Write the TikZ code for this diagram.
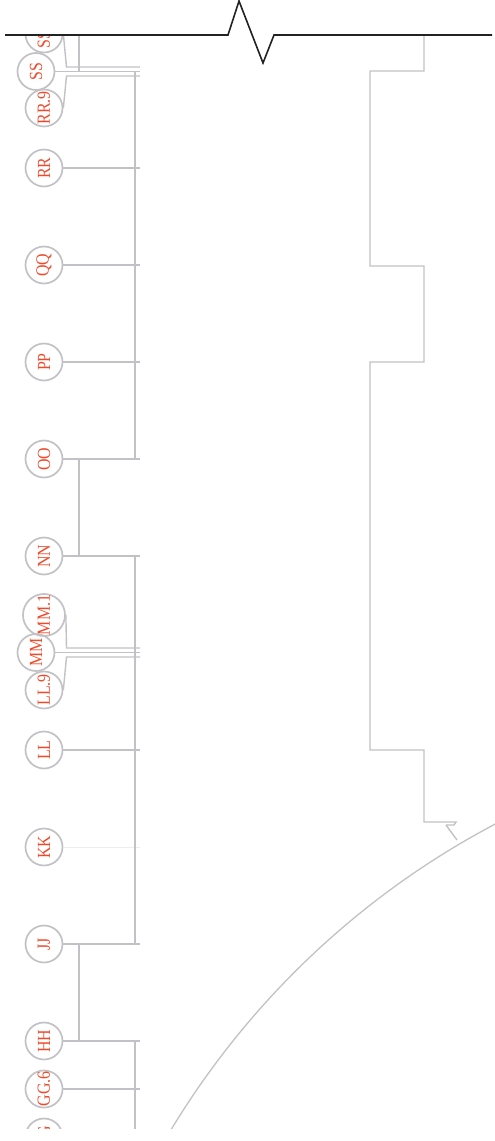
\documentclass[tikz,border=0pt]{standalone}
\usepackage{fontspec}
\setmainfont{Liberation Serif}
\usepackage{graphicx}
\definecolor{lg}{HTML}{C2C2C6}
\definecolor{lbl}{HTML}{EE4A2C}
\definecolor{brk}{HTML}{222222}
\newcommand\bublab[1]{\rotatebox{90}{\scalebox{0.86}[1]{#1}}}
\begin{document}
\begin{tikzpicture}[x=1pt,y=-1pt,
  bub/.style={circle,draw=lg,line width=1.7pt,minimum size=37pt,inner sep=0pt,
              text=lbl,font=\fontsize{18.5}{19}\selectfont},
  gl/.style={draw=lg,line width=1.4pt,line join=miter},
  faint/.style={draw=lg!30,line width=0.6pt},
  brkline/.style={draw=brk,line width=1.6pt,line join=miter}]
\useasboundingbox (0,0) rectangle (495,1141);
\coordinate (gx) at (140,0);
\begin{scope}
\clip (0,35) rectangle (495,1128);
% bubbles
\node[bub] (SSa) at (44,34) {\bublab{SS.1}};
\node[bub] (SS) at (36,71.5) {\bublab{SS}};
\node[bub] (RRa) at (44,108) {\bublab{RR.9}};
\node[bub] (RR) at (44,168) {\bublab{RR}};
\node[bub] (QQ) at (44,265) {\bublab{QQ}};
\node[bub] (PP) at (44,362) {\bublab{PP}};
\node[bub] (OO) at (44,459) {\bublab{OO}};
\node[bub] (NN) at (44,556) {\bublab{NN}};
\node[bub] (MMa) at (44,615) {\bublab{MM.1}};
\node[bub] (MM) at (36,652.5) {\bublab{MM}};
\node[bub] (LLa) at (44,690) {\bublab{LL.9}};
\node[bub] (LL) at (44,750) {\bublab{LL}};
\node[bub] (KK) at (44,847) {\bublab{KK}};
\node[bub] (JJ) at (44,944) {\bublab{JJ}};
\node[bub] (HH) at (44,1041) {\bublab{HH}};
\node[bub] (GGa) at (44,1089) {\bublab{GG.6}};
\node[bub] (GG) at (44,1137) {\bublab{GG}};
% leader bends
\coordinate (b1) at (66.5,67);
\coordinate (b2) at (66.5,76);
\coordinate (b3) at (66.5,648);
\coordinate (b4) at (66.5,657);
% grid lines
\draw[gl] (SSa.east) -- (b1) -- (b1 -| gx);
\draw[gl] (SS.east) -- (SS.east -| gx);
\draw[gl] (RRa.east) -- (b2) -- (b2 -| gx);
\draw[gl] (RR.east) -- (RR.east -| gx);
\draw[gl] (QQ.east) -- (QQ.east -| gx);
\draw[gl] (PP.east) -- (PP.east -| gx);
\draw[gl] (OO.east) -- (OO.east -| gx);
\draw[gl] (NN.east) -- (NN.east -| gx);
\draw[gl] (MMa.east) -- (b3) -- (b3 -| gx);
\draw[gl] (MM.east) -- (MM.east -| gx);
\draw[gl] (LLa.east) -- (b4) -- (b4 -| gx);
\draw[gl] (LL.east) -- (LL.east -| gx);
\draw[faint] (KK.east) -- (KK.east -| gx);
\draw[gl] (JJ.east) -- (JJ.east -| gx);
\draw[gl] (HH.east) -- (HH.east -| gx);
\draw[gl] (GGa.east) -- (GGa.east -| gx);
% left stepped outline
\draw[gl] (79,30) -- (79,71.5) -- (135,71.5) -- (135,459) -- (79,459) -- (79,556)
  -- (135,556) -- (135,944) -- (79,944) -- (79,1041) -- (135,1041) -- (135,1135);
% right stepped outline
\draw[gl] (424,30) -- (424,71) -- (370,71) -- (370,266) -- (424,266) -- (424,362)
  -- (370,362) -- (370,750) -- (424,750) -- (424,822) -- (456,822) -- (454,825) -- (446,825);
\coordinate (st) at (446,825);
\coordinate (se) at (457,840);
\draw[gl] (st) -- (se);
% arc
\draw[draw=lg,line width=1.3pt] (881,1558) circle[radius=829];
\end{scope}
% break line
\draw[brkline] (5,35) -- (228,35) -- (239,1) -- (263,63) -- (274,35) -- (492,35);
\end{tikzpicture}
\end{document}
